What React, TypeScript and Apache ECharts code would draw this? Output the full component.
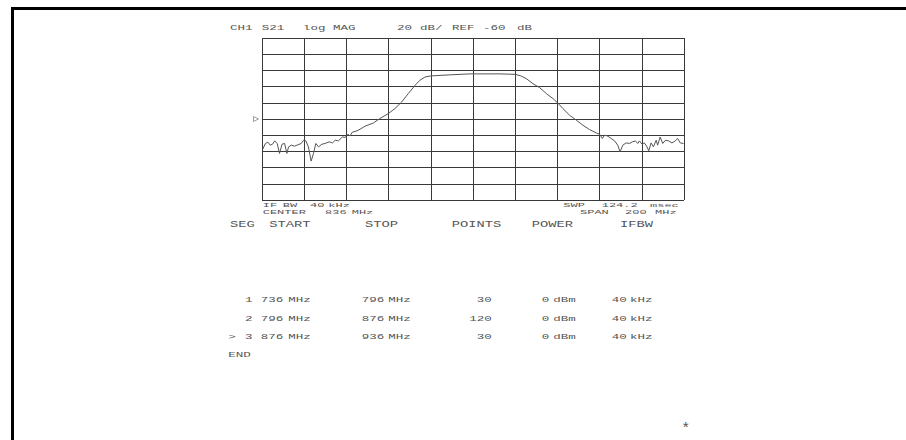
import React, { useEffect, useRef } from "react";
import * as echarts from "echarts";

// ---- instrument settings ----
const centerMHz = 836;
const spanMHz = 200;
const refDb = -60;
const dbPerDiv = 20;
const ifBwKHz = 40;
const sweepMs = 124.2;

// ---- measured trace (MHz, dB) ----
const traceFreq = [736.3,737.6,738.8,739.9,741.0,742.0,743.2,744.3,745.5,746.7,747.8,748.6,749.9,751.4,753.0,754.6,755.7,756.8,758.0,759.3,760.4,761.5,762.8,764.4,765.9,767.8,769.4,770.7,772.2,774.1,775.4,776.7,777.7,778.8,780.9,782.5,784.8,788.8,791.9,795.9,799.0,802.2,805.3,808.5,810.8,813.2,816.0,825.0,834.5,848.7,856.1,858.9,861.3,864.4,867.6,870.8,873.9,876.0,878.6,881.8,885.0,888.1,891.2,894.4,896.0,897.3,898.3,899.9,901.5,903.1,904.6,905.7,907.0,908.6,910.1,911.6,913.0,914.1,914.9,916.1,917.2,918.3,919.3,920.4,921.5,922.8,923.5,924.7,925.9,927.2,928.7,930.3,931.9,933.0,934.2,935.8];
const traceDb = [-97.6,-90.2,-88.6,-92.3,-91.1,-87.0,-90.2,-102.5,-91.1,-90.2,-102.5,-94.4,-92.3,-93.5,-91.9,-90.2,-86.2,-87.0,-94.4,-112.0,-102.5,-90.2,-94.4,-91.1,-90.2,-88.2,-89.5,-86.2,-87.0,-82.1,-82.8,-78.8,-80.9,-76.3,-74.7,-72.6,-68.9,-64.9,-59.4,-53.3,-47.1,-39.0,-28.7,-18.5,-12.3,-8.2,-6.8,-5.5,-4.3,-4.3,-4.9,-7.0,-10.2,-16.4,-21.3,-28.7,-34.8,-39.8,-47.1,-55.4,-61.5,-67.7,-73.0,-77.2,-78.8,-84.1,-80.0,-81.2,-84.1,-87.0,-92.3,-100.6,-92.3,-89.5,-90.2,-88.2,-87.0,-90.2,-87.0,-91.1,-89.5,-93.5,-99.3,-89.5,-94.4,-86.2,-92.3,-82.2,-90.2,-86.2,-87.0,-89.5,-87.0,-84.1,-89.5,-90.2];

// ---- segment table ----
const segNumbers = ["1", "2", "3"];
const segStart = ["736", "796", "876"];
const segStop = ["796", "876", "936"];
const segPoints = ["30", "120", "30"];
const segPower = ["0", "0", "0"];
const segIfbw = ["40", "40", "40"];
const activeSeg = 2;
const tableHeaders = ["SEG", "START", "STOP", "POINTS", "POWER", "IFBW"];

const INK = "#555555";
const GRID = "#3a3a3a";
const FONT = "Liberation Mono";

function txt(text: string, x: number, y: number, opts: any = {}) {
  const size = opts.size ?? 10;
  return {
    type: "text",
    x,
    y,
    scaleX: opts.sx ?? 1.25,
    scaleY: opts.sy ?? 0.8,
    silent: true,
    style: {
      text,
      fill: INK,
      fontFamily: FONT,
      fontSize: size,
      align: opts.align ?? "left",
      verticalAlign: "middle",
    },
  };
}

export default function App() {
  const ref = useRef<HTMLDivElement>(null);
  useEffect(() => {
    if (!ref.current) return;
    const chart = echarts.init(ref.current, null, { renderer: "svg" });
    const half = spanMHz / 2;
    const yMax = refDb + 5 * dbPerDiv;
    const yMin = refDb - 5 * dbPerDiv;

    const graphics: any[] = [];
    // frame
    graphics.push({ type: "rect", shape: { x: 11, y: 7, width: 1000, height: 3 }, style: { fill: "#000" }, silent: true });
    graphics.push({ type: "rect", shape: { x: 11, y: 7, width: 3, height: 500 }, style: { fill: "#000" }, silent: true });

    // title line
    const title: [string, number][] = [
      ["CH1", 230], ["S21", 261.7], ["log", 303], ["MAG", 333],
      [String(dbPerDiv), 397], ["dB/", 420], ["REF", 452], [String(refDb), 483], ["dB", 517],
    ];
    title.forEach(([t, x]) => graphics.push(txt(t, x, 27.5, { sy: 0.78 })));

    // annotations under grid
    const small = { sy: 0.62, sx: 1.2 };
    const ann1: [string, number][] = [["IF", 262.7], ["BW", 282.7], [String(ifBwKHz), 310], ["kHz", 328.3], ["SWP", 563.3], [sweepMs.toFixed(1), 601.7], ["msec", 650]];
    ann1.forEach(([t, x]) => graphics.push(txt(t, x, 205, small)));
    const ann2: [string, number][] = [["CENTER", 262.7], [String(centerMHz), 325], ["MHz", 351.7], ["SPAN", 580], [String(spanMHz), 625], ["MHz", 655]];
    ann2.forEach(([t, x]) => graphics.push(txt(t, x, 212.3, small)));

    // table header
    const hdrX = [230, 269.3, 365, 451.7, 531.7, 620];
    tableHeaders.forEach((t, i) => graphics.push(txt(t, hdrX[i], 224.5, { size: 11, sx: 1.25, sy: 0.8 })));

    // table rows
    const rowY = [300, 318.3, 336.7];
    segNumbers.forEach((n, i) => {
      const y = rowY[i];
      if (i === activeSeg) graphics.push(txt(">", 228.3, y));
      graphics.push(txt(n, 245, y));
      graphics.push(txt(segStart[i], 260.7, y));
      graphics.push(txt("MHz", 288.3, y));
      graphics.push(txt(segStop[i], 361.7, y));
      graphics.push(txt("MHz", 388.3, y));
      graphics.push(txt(segPoints[i], 491.7, y, { align: "right" }));
      graphics.push(txt(segPower[i], 541.7, y));
      graphics.push(txt("dBm", 553.3, y));
      graphics.push(txt(segIfbw[i], 611.7, y));
      graphics.push(txt("kHz", 630, y));
    });
    graphics.push(txt("END", 228.3, 354.3));
    graphics.push(txt("*", 685.7, 429.5, { align: "center", size: 15, sx: 1, sy: 1 }));

    chart.setOption({
      animation: false,
      backgroundColor: "#ffffff",
      grid: { left: 262, top: 38, right: 222, bottom: 240, show: false },
      xAxis: {
        type: "value",
        min: -half,
        max: half,
        interval: spanMHz / 10,
        axisLine: { show: false },
        axisTick: { show: false },
        axisLabel: { show: false },
        splitLine: { show: true, lineStyle: { color: GRID, width: 1 } },
      },
      yAxis: {
        type: "value",
        min: yMin,
        max: yMax,
        interval: dbPerDiv,
        axisLine: { show: false },
        axisTick: { show: false },
        axisLabel: { show: false },
        splitLine: { show: true, lineStyle: { color: GRID, width: 1 } },
      },
      series: [
        {
          type: "line",
          data: traceFreq.map((f, i) => [f - centerMHz, traceDb[i]]),
          symbol: "none",
          lineStyle: { color: "#555555", width: 1 },
          silent: true,
        },
        {
          type: "scatter",
          data: [[-half, refDb]],
          symbol: "triangle",
          symbolSize: [5, 5],
          symbolRotate: -90,
          symbolOffset: [-6, 0],
          clip: false,
          silent: true,
          itemStyle: { color: "#fff", borderColor: "#666", borderWidth: 0.8 },
        },
      ],
      graphic: graphics,
    });
    return () => chart.dispose();
  }, []);
  return (
    <div
      ref={ref}
      style={{ position: "fixed", left: 0, top: 0, width: 906, height: 440, background: "#fff" }}
    />
  );
}
